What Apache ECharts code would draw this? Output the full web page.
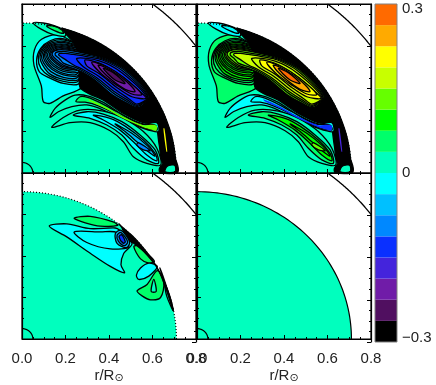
<!DOCTYPE html>
<html>
<head>
<meta charset="utf-8">
<style>html,body{margin:0;padding:0;background:#fff}#chart{width:436px;height:385px}</style>
<script src="https://cdn.jsdelivr.net/npm/echarts@6/dist/echarts.min.js"></script>
</head>
<body>
<div id="chart"></div>
<script>
// colour bar, bottom band first
var barEdges=[-0.3,-0.2625,-0.225,-0.1875,-0.15,-0.1125,-0.075,-0.0375,0,0.0375,0.075,0.1125,0.15,0.1875,0.225,0.2625,0.3];
var barColors=['#000000','#500f60','#701ca8','#4424dc','#0a30ff','#0088ff','#00c0ff','#00ffff','#00ffbe','#00ff6a','#00ff00','#66ff00','#c8ff00','#ffff00','#ffaa00','#ff6a00'];
var barTicks=[-0.293,0,0.291];
var xTicks=[0,0.2,0.4,0.6,0.8];

// circles: radius, start angle, end angle
var coreArc=[0.05,0,90];
var surfaceArc=[0.71,0,90];
var outerArc=[1.0,36.87,53.13];

// top panels share contour shapes, values differ in sign
var topBlack=[[0.184,0.686],[0.243,0.667],[0.3,0.643],[0.355,0.615],[0.407,0.582],[0.456,0.544],[0.502,0.502],[0.544,0.456],[0.582,0.407],[0.615,0.355],[0.643,0.3],[0.667,0.243],[0.686,0.184],[0.699,0.123],[0.707,0.062],[0.712,0.046],[0.689,0.046],[0.647,0.046],[0.632,0.125],[0.623,0.196],[0.62,0.232],[0.558,0.238],[0.466,0.282],[0.374,0.345],[0.305,0.377],[0.267,0.405],[0.262,0.47],[0.258,0.56],[0.235,0.62],[0.206,0.653],[0.183,0.685]];
var ring0=[[0.098,0.338],[0.089,0.412],[0.055,0.511],[0.057,0.582],[0.09,0.633],[0.163,0.655],[0.239,0.617],[0.344,0.554],[0.451,0.484],[0.571,0.364],[0.482,0.405],[0.359,0.462],[0.29,0.472],[0.275,0.405],[0.187,0.364],[0.129,0.33]];
var ring1=[[0.08,0.479],[0.067,0.535],[0.086,0.59],[0.129,0.626],[0.187,0.636],[0.255,0.606],[0.351,0.55],[0.459,0.481],[0.571,0.361],[0.482,0.409],[0.359,0.468],[0.294,0.479],[0.259,0.421],[0.19,0.424],[0.121,0.453]];
var ring1b=[[0.087,0.495],[0.075,0.542],[0.093,0.592],[0.135,0.622],[0.19,0.63],[0.26,0.6],[0.28,0.5],[0.255,0.432],[0.19,0.434],[0.125,0.46]];
var ring2=[[0.095,0.511],[0.083,0.55],[0.101,0.593],[0.141,0.617],[0.193,0.623],[0.264,0.598],[0.359,0.544],[0.463,0.475],[0.571,0.358],[0.482,0.412],[0.362,0.472],[0.294,0.484],[0.255,0.44],[0.19,0.443],[0.129,0.468]];
var ring2b=[[0.1,0.52],[0.09,0.554],[0.109,0.593],[0.147,0.613],[0.196,0.617],[0.262,0.59],[0.27,0.5],[0.252,0.45],[0.19,0.453],[0.133,0.48]];
var ring3=[[0.106,0.527],[0.098,0.558],[0.117,0.593],[0.152,0.609],[0.199,0.61],[0.271,0.59],[0.367,0.538],[0.466,0.472],[0.567,0.358],[0.485,0.415],[0.365,0.475],[0.294,0.487],[0.252,0.459],[0.19,0.464],[0.137,0.491]];
var ring3b=[[0.112,0.532],[0.104,0.56],[0.123,0.59],[0.157,0.605],[0.203,0.605],[0.262,0.58],[0.262,0.5],[0.25,0.467],[0.19,0.472],[0.14,0.498]];
var ring4=[[0.118,0.538],[0.11,0.563],[0.129,0.588],[0.163,0.601],[0.206,0.601],[0.279,0.582],[0.371,0.535],[0.469,0.465],[0.564,0.358],[0.485,0.418],[0.368,0.478],[0.294,0.491],[0.248,0.475],[0.19,0.481],[0.144,0.506]];
var ring4b=[[0.123,0.542],[0.118,0.565],[0.135,0.585],[0.167,0.597],[0.209,0.595],[0.262,0.575],[0.262,0.5],[0.246,0.483],[0.19,0.489],[0.148,0.514]];
var ring5=[[0.129,0.547],[0.126,0.566],[0.141,0.582],[0.172,0.593],[0.212,0.59],[0.285,0.574],[0.377,0.528],[0.472,0.459],[0.561,0.358],[0.488,0.421],[0.371,0.481],[0.294,0.495],[0.244,0.491],[0.19,0.497],[0.152,0.522]];
var ring5b=[[0.135,0.55],[0.133,0.568],[0.147,0.58],[0.176,0.588],[0.215,0.585],[0.26,0.57],[0.26,0.505],[0.24,0.497],[0.19,0.504],[0.157,0.527]];
var ring6=[[0.141,0.554],[0.14,0.569],[0.153,0.579],[0.181,0.584],[0.218,0.58],[0.291,0.566],[0.37,0.545],[0.475,0.49],[0.584,0.364],[0.536,0.31],[0.48,0.332],[0.415,0.37],[0.335,0.44],[0.277,0.478],[0.239,0.494],[0.19,0.511],[0.163,0.532]];
var ring7=[[0.153,0.558],[0.155,0.569],[0.167,0.574],[0.19,0.576],[0.224,0.571],[0.298,0.558],[0.37,0.54],[0.47,0.487],[0.58,0.362],[0.533,0.315],[0.484,0.338],[0.42,0.378],[0.34,0.445],[0.28,0.483],[0.239,0.502],[0.19,0.52],[0.172,0.541]];
var ring8=[[0.169,0.558],[0.172,0.566],[0.198,0.566],[0.23,0.562],[0.304,0.55],[0.37,0.535],[0.465,0.482],[0.578,0.36],[0.53,0.32],[0.486,0.345],[0.425,0.385],[0.345,0.45],[0.28,0.49],[0.239,0.51],[0.198,0.538]];
var ring9=[[0.252,0.543],[0.359,0.53],[0.459,0.475],[0.574,0.358],[0.528,0.326],[0.489,0.353],[0.428,0.396],[0.351,0.459],[0.282,0.503]];
var ring10=[[0.29,0.535],[0.359,0.519],[0.451,0.464],[0.543,0.385],[0.571,0.353],[0.505,0.361],[0.436,0.405],[0.359,0.468],[0.298,0.507]];
var ring11=[[0.321,0.524],[0.39,0.503],[0.466,0.453],[0.551,0.372],[0.505,0.374],[0.436,0.416],[0.367,0.468]];
var ring12=[[0.351,0.511],[0.413,0.484],[0.482,0.432],[0.52,0.385],[0.474,0.396],[0.413,0.44],[0.367,0.484]];
var ring13=[[0.374,0.495],[0.42,0.475],[0.474,0.424],[0.428,0.44]];
var capOuter=[[0.052,0.711],[0.09,0.68],[0.144,0.655],[0.198,0.648],[0.198,0.673],[0.144,0.699],[0.098,0.71]];
var capInner=[[0.113,0.696],[0.152,0.673],[0.19,0.661],[0.183,0.677],[0.144,0.696]];
var armA=[[0.129,0.263],[0.152,0.306],[0.198,0.345],[0.244,0.369],[0.305,0.364],[0.374,0.334],[0.466,0.274],[0.558,0.232],[0.62,0.238],[0.627,0.196],[0.558,0.211],[0.466,0.251],[0.374,0.298],[0.298,0.322],[0.229,0.314],[0.167,0.29]];
var armB=[[0.267,0.361],[0.301,0.358],[0.359,0.333],[0.436,0.29],[0.543,0.232],[0.612,0.227],[0.62,0.203],[0.543,0.222],[0.436,0.278],[0.351,0.318],[0.29,0.335],[0.248,0.338]];
var armC=[[0.305,0.349],[0.374,0.318],[0.466,0.266],[0.558,0.226],[0.601,0.228],[0.62,0.222],[0.617,0.2],[0.597,0.205],[0.558,0.217],[0.466,0.258],[0.374,0.31],[0.313,0.338]];
var tail=[[0.65,0.211],[0.655,0.211],[0.668,0.101],[0.664,0.101]];
var lowA=[[0.137,0.216],[0.19,0.263],[0.267,0.298],[0.374,0.293],[0.469,0.257],[0.558,0.196],[0.62,0.117],[0.638,0.038],[0.574,0.046],[0.512,0.077],[0.466,0.148],[0.405,0.2],[0.313,0.238],[0.221,0.238]];
var lowB=[[0.236,0.274],[0.298,0.29],[0.374,0.279],[0.459,0.243],[0.543,0.18],[0.612,0.109],[0.627,0.046],[0.574,0.062],[0.512,0.117],[0.459,0.18],[0.39,0.227],[0.313,0.259]];
var lowC=[[0.328,0.274],[0.405,0.259],[0.474,0.222],[0.558,0.156],[0.612,0.093],[0.62,0.058],[0.574,0.085],[0.512,0.148],[0.451,0.203],[0.374,0.251]];
var lowD=[[0.428,0.232],[0.505,0.188],[0.581,0.125],[0.612,0.08],[0.581,0.101],[0.528,0.148],[0.474,0.196]];
var lowE=[[0.535,0.144],[0.589,0.106],[0.558,0.109],[0.528,0.132]];
var footA=[[0.632,0.022],[0.65,0.043],[0.689,0.049],[0.712,0.046],[0.715,0.003],[0.635,0.002]];
var footB=[[0.658,0.006],[0.666,0.03],[0.689,0.038],[0.704,0.035],[0.704,0.006]];

var topShapes=[ring0,ring1,ring1b,ring2,ring2b,ring3,ring3b,ring4,ring4b,ring5,ring5b,capOuter,capInner,topBlack,armA,armB,lowA,lowB,lowC,lowD,lowE,footA,footB,ring6,ring7,ring8,ring9,ring10,ring11,ring12,ring13];
var leftValues=[-0.01,-0.02,-0.03,-0.04,-0.05,-0.06,-0.06,-0.07,-0.07,-0.08,-0.09,0.02,0.05,-0.29,0.02,0.05,0.02,-0.01,-0.03,-0.06,-0.09,-0.29,0.02,-0.1,-0.11,-0.12,-0.13,-0.16,-0.2,-0.21,-0.24];
var rightValues=[0.05,0.06,0.07,0.08,0.08,0.09,0.1,0.1,0.11,0.12,0.12,-0.01,-0.03,-0.29,-0.01,-0.03,0.02,0.05,0.08,0.1,0.12,-0.29,0.02,0.13,0.14,0.16,0.17,0.2,0.22,0.24,0.28];
var topThin=[armC,tail];
var leftThinValues=[0.14,0.2];
var rightThinValues=[-0.12,-0.17];

// bottom left panel
var lowBlack=[[0.445,0.555],[0.456,0.544],[0.502,0.502],[0.544,0.456],[0.582,0.407],[0.615,0.355],[0.643,0.3],[0.667,0.243],[0.686,0.184],[0.695,0.137],[0.66,0.248],[0.622,0.342],[0.56,0.421],[0.514,0.461],[0.48,0.484],[0.46,0.535]];
var wedgeTop=[[0.24,0.582],[0.314,0.591],[0.422,0.563],[0.44,0.547],[0.36,0.544],[0.291,0.56]];
var wedgeOuter=[[0.125,0.544],[0.206,0.555],[0.314,0.532],[0.429,0.535],[0.449,0.524],[0.506,0.461],[0.468,0.413],[0.455,0.358],[0.471,0.319],[0.406,0.35],[0.314,0.413],[0.206,0.492]];
var wedgeInner=[[0.24,0.516],[0.36,0.516],[0.437,0.513],[0.491,0.445],[0.406,0.434],[0.298,0.465]];
var eyeA=[[0.429,0.508],[0.455,0.524],[0.495,0.468],[0.48,0.44],[0.437,0.461]];
var eyeB=[[0.437,0.5],[0.455,0.513],[0.486,0.468],[0.471,0.45],[0.443,0.472]];
var eyeC=[[0.446,0.492],[0.458,0.503],[0.475,0.468],[0.465,0.462]];
var lobeA=[[0.514,0.445],[0.545,0.386],[0.583,0.366],[0.609,0.374],[0.575,0.413],[0.537,0.45]];
var lobeB=[[0.526,0.308],[0.545,0.342],[0.583,0.366],[0.622,0.35],[0.583,0.303],[0.537,0.287]];
var lobeC=[[0.529,0.232],[0.575,0.263],[0.622,0.33],[0.652,0.271],[0.637,0.2],[0.591,0.189],[0.552,0.208]];
var lobeD=[[0.594,0.229],[0.606,0.287],[0.617,0.229]];
var lobeE=[[0.634,0.342],[0.668,0.24],[0.695,0.137],[0.665,0.208],[0.652,0.279]];
var lowShapes=[wedgeTop,wedgeOuter,wedgeInner,lobeA,lobeB,lobeC,lobeD,lobeE,lowBlack,eyeA,eyeB,eyeC];
var lowValues=[0.05,-0.01,-0.03,0.05,-0.02,0.05,0.02,0.02,-0.29,-0.06,-0.09,-0.12];

// grey stretch along the left edge of each panel
var edgeTL=[[0,0.71],[0,0.535]];
var edgeTR=[[0,0.8],[0,0.7]];
var edgeBL=[[0,0.71],[0,0.6]];
var edgeBR=[[0,0.8],[0,0]];
var frame=[[0,0],[0.8,0],[0.8,0.8],[0,0.8],[0,0]];

// 面板位置
var panels=[
    {left:22,top:4,shapes:topShapes,values:leftValues,thin:topThin,thinValues:leftThinValues,edge:'dotted',grey:edgeTL,label:false},
    {left:197,top:4,shapes:topShapes,values:rightValues,thin:topThin,thinValues:rightThinValues,edge:'dotted',grey:edgeTR,label:false},
    {left:22,top:173,shapes:lowShapes,values:lowValues,thin:[],thinValues:[],edge:'dotted',grey:edgeBL,label:true},
    {left:197,top:173,shapes:[],values:[],thin:[],thinValues:[],edge:'solid',grey:edgeBR,label:true}
];

function bandColor(v){
    for(var i=0;i<barColors.length;i++){
        if(v<barEdges[i+1]) return barColors[i];
    }
    return barColors[barColors.length-1];
}

function arcPoints(api,arc){
    var pts=[];
    for(var a=arc[1];a<=arc[2]+0.001;a+=(arc[2]-arc[1])/60){
        var t=a*Math.PI/180;
        pts.push(api.coord([arc[0]*Math.cos(t),arc[0]*Math.sin(t)]));
    }
    return pts;
}

var option={
    animation:false,
    backgroundColor:'#ffffff',
    textStyle:{fontFamily:'Liberation Sans'},
    grid:[],xAxis:[],yAxis:[],series:[]
};

function tickSet(){
    return {
        axisLine:{show:true,onZero:false,lineStyle:{color:'#000',width:1.2}},
        axisTick:{show:true,inside:true,length:4,lineStyle:{color:'#000',width:1}},
        minorTick:{show:true,splitNumber:4,length:2,lineStyle:{color:'#000',width:1}}
    };
}

panels.forEach(function(p,n){
    option.grid.push({left:p.left,top:p.top,width:174,height:169,show:false});
    var t=tickSet();
    option.xAxis.push({
        gridIndex:n,type:'value',min:0,max:0.8,interval:0.2,position:'bottom',z:5,
        axisLine:t.axisLine,axisTick:t.axisTick,minorTick:t.minorTick,splitLine:{show:false},
        axisLabel:p.label?{show:true,margin:12,fontSize:15,color:'#222',fontFamily:'Liberation Sans',showMinLabel:true,showMaxLabel:true,
            formatter:function(v){return xTicks[Math.round(v/0.2)].toFixed(1);}}:{show:false},
        name:p.label?'{a|r/R}{b|⊙}':'',nameLocation:'middle',nameGap:28,
        nameTextStyle:{rich:{a:{fontSize:15,color:'#222',fontFamily:'Liberation Sans'},b:{fontSize:11,color:'#222',padding:[6,0,0,0],fontFamily:'DejaVu Sans'}}}
    });
    option.yAxis.push({
        gridIndex:n,type:'value',min:0,max:0.8,interval:0.2,position:'left',z:5,
        axisLine:t.axisLine,axisTick:t.axisTick,minorTick:t.minorTick,splitLine:{show:false},axisLabel:{show:false}
    });
    //圆盘
    option.series.push({
        type:'custom',xAxisIndex:n,yAxisIndex:n,z:1,silent:true,
        data:[[0]],
        renderItem:function(params,api){
            var surf=arcPoints(api,surfaceArc);
            return {type:'polygon',shape:{points:surf.concat([api.coord([0,0])])},style:{fill:barColors[8],stroke:null}};
        }
    });
    //等值线填充
    option.series.push({
        type:'custom',xAxisIndex:n,yAxisIndex:n,z:2,silent:true,
        data:p.shapes.map(function(s,i){return [i];}),
        renderItem:function(params,api){
            var pts=p.shapes[params.dataIndex].map(function(d){return api.coord(d);});
            return {type:'polygon',shape:{points:pts,smooth:0.3},
                style:{fill:bandColor(p.values[params.dataIndex]),stroke:'#000',lineWidth:1.3}};
        }
    });
    //细条，不描边
    option.series.push({
        type:'custom',xAxisIndex:n,yAxisIndex:n,z:3,silent:true,
        data:p.thin.map(function(s,i){return [i];}),
        renderItem:function(params,api){
            var pts=p.thin[params.dataIndex].map(function(d){return api.coord(d);});
            return {type:'polygon',shape:{points:pts,smooth:0.3},
                style:{fill:bandColor(p.thinValues[params.dataIndex]),stroke:null}};
        }
    });
    //表面线、外圈、中心小弧和边框
    option.series.push({
        type:'custom',xAxisIndex:n,yAxisIndex:n,z:4,silent:true,
        data:[[0]],
        renderItem:function(params,api){
            return {type:'group',children:[
                {type:'polyline',shape:{points:arcPoints(api,surfaceArc)},
                    style:{fill:null,stroke:'#000',lineWidth:1.2,lineDash:p.edge=='dotted'?[1,2]:null}},
                {type:'polyline',shape:{points:arcPoints(api,outerArc)},style:{fill:null,stroke:'#000',lineWidth:1.3}},
                {type:'polyline',shape:{points:arcPoints(api,coreArc)},style:{fill:null,stroke:'#000',lineWidth:1.2}},
                {type:'polyline',shape:{points:frame.map(function(d){return api.coord(d);})},style:{fill:null,stroke:'#000',lineWidth:1.2}},
                {type:'polyline',shape:{points:p.grey.map(function(d){return api.coord(d);})},style:{fill:null,stroke:'#808080',lineWidth:2}}
            ]};
        }
    });
});

// 上边和右边的刻度放在重叠的网格里
panels.forEach(function(p,n){
    var g=option.grid.length;
    option.grid.push({left:p.left,top:p.top,width:174,height:169,show:false});
    var t=tickSet();
    option.xAxis.push({
        gridIndex:g,type:'value',min:0,max:0.8,interval:0.2,position:'top',z:5,
        axisLine:t.axisLine,axisTick:t.axisTick,minorTick:t.minorTick,splitLine:{show:false},axisLabel:{show:false}
    });
    option.yAxis.push({
        gridIndex:g,type:'value',min:0,max:0.8,interval:0.2,position:'right',z:5,
        axisLine:t.axisLine,axisTick:t.axisTick,minorTick:t.minorTick,splitLine:{show:false},axisLabel:{show:false}
    });
    option.series.push({type:'custom',xAxisIndex:g,yAxisIndex:g,silent:true,data:[],renderItem:function(){return null;}});
});

// colour bar
var barGrid=option.grid.length;
option.grid.push({left:375,top:4,width:22,height:338,show:true,borderColor:'#808080',borderWidth:1,z:3});
option.xAxis.push({gridIndex:barGrid,type:'value',min:0,max:1,show:false});
option.yAxis.push({
    gridIndex:barGrid,type:'value',min:-0.3,max:0.3,position:'right',
    axisLine:{show:false},axisTick:{show:false},splitLine:{show:false},
    axisLabel:{show:true,margin:5,fontSize:15,color:'#222',fontFamily:'Liberation Sans',customValues:barTicks,
        formatter:function(v){return v==0?'0':(v<0?'−':'')+'0.3';}}
});
option.series.push({
    type:'custom',xAxisIndex:barGrid,yAxisIndex:barGrid,z:2,silent:true,
    data:barColors.map(function(c,i){return [barEdges[i],barEdges[i+1]];}),
    renderItem:function(params,api){
        var a=api.coord([0,api.value(1)]);
        var b=api.coord([1,api.value(0)]);
        return {type:'rect',shape:{x:a[0],y:a[1],width:b[0]-a[0],height:b[1]-a[1]},
            style:{fill:barColors[params.dataIndex],stroke:null}};
    }
});

var mychart=echarts.init(document.getElementById('chart'),null,{renderer:'canvas'});
mychart.setOption(option);
</script>
</body>
</html>
